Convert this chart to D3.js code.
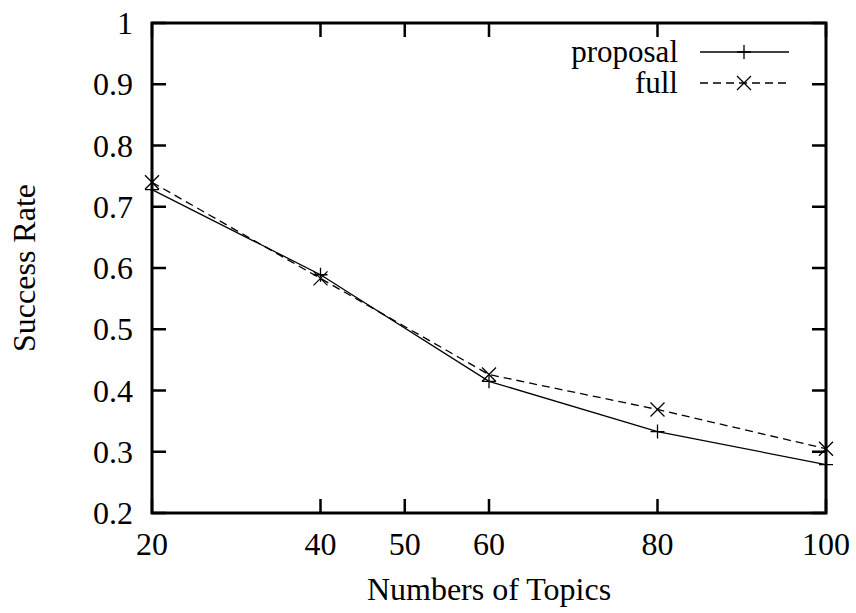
<!DOCTYPE html>
<html>
<head>
<meta charset="utf-8">
<script src="https://cdn.jsdelivr.net/npm/d3@7"></script>
<style>
	body { margin: 0; background: #fff; }
</style>
</head>
<body>
<svg id="chart" width="856" height="613"></svg>
<script>

var topics = [20, 40, 60, 80, 100];
var proposal = [0.728, 0.589, 0.415, 0.333, 0.279];
var full = [0.740, 0.583, 0.426, 0.369, 0.305];
var xticks = [20, 40, 50, 60, 80, 100];
var yticks = [0.2, 0.3, 0.4, 0.5, 0.6, 0.7, 0.8, 0.9, 1];

var font = "'Liberation Serif', 'Times New Roman', Times, serif";
var fs = 32;

var svg = d3.select("#chart");
var [ mT, mR, mB, mL ] = [ 23, 30, 100, 152 ];		// marginTop, marginRight, ...
var width = 856, height = 613;

var x = d3.scaleLinear([20, 100], [mL, width - mR]);
var y = d3.scaleLinear([0.2, 1], [height - mB, mT]);

var tick = 14;

// ticks, drawn inward and mirrored like gnuplot
var g = svg.append("g").attr("stroke", "#000").attr("stroke-width", 2.5);
xticks.forEach(t => {
	g.append("line").attr("x1", x(t)).attr("x2", x(t)).attr("y1", y(0.2)).attr("y2", y(0.2) - tick);
	g.append("line").attr("x1", x(t)).attr("x2", x(t)).attr("y1", y(1)).attr("y2", y(1) + tick);
});
yticks.forEach(t => {
	g.append("line").attr("x1", x(20)).attr("x2", x(20) + tick).attr("y1", y(t)).attr("y2", y(t));
	g.append("line").attr("x1", x(100)).attr("x2", x(100) - tick).attr("y1", y(t)).attr("y2", y(t));
});

svg.append("rect")
	.attr("x", x(20)).attr("y", y(1))
	.attr("width", x(100) - x(20)).attr("height", y(0.2) - y(1))
	.attr("fill", "none").attr("stroke", "#000").attr("stroke-width", 3);

var txt = svg.append("g").attr("font-family", font).attr("font-size", fs).attr("fill", "#000");

// tick labels
txt.append("g").selectAll("text").data(xticks).join("text")
	.attr("x", d => x(d)).attr("y", y(0.2) + 42)
	.attr("text-anchor", "middle")
	.text(d => d);

txt.append("g").selectAll("text").data(yticks).join("text")
	.attr("x", x(20) - 19).attr("y", d => y(d) + 11)
	.attr("text-anchor", "end")
	.text(d => d3.format("~g")(d));

txt.append("text")
	.attr("x", (x(20) + x(100)) / 2).attr("y", 600)
	.attr("text-anchor", "middle")
	.text("Numbers of Topics");

txt.append("text")
	.attr("transform", `translate(35, ${(y(0.2) + y(1)) / 2}) rotate(-90)`)
	.attr("text-anchor", "middle")
	.text("Success Rate");

// series
var line = d3.line().x(d => x(d[0])).y(d => y(d[1]));

function plus(sel, cx, cy)	{
	var s = 7;
	sel.append("path").attr("d", `M${cx - s},${cy}H${cx + s}M${cx},${cy - s}V${cy + s}`)
		.attr("stroke", "#000").attr("stroke-width", 1.3).attr("fill", "none");
}

function cross(sel, cx, cy)	{
	var s = 7;
	sel.append("path").attr("d", `M${cx - s},${cy - s}L${cx + s},${cy + s}M${cx - s},${cy + s}L${cx + s},${cy - s}`)
		.attr("stroke", "#000").attr("stroke-width", 1.3).attr("fill", "none");
}

var series = [
	{ name: "proposal", vals: proposal, dash: null, mark: plus },
	{ name: "full", vals: full, dash: "8,5", mark: cross },
];

series.forEach((s, i) => {
	var pts = topics.map((t, j) => [t, s.vals[j]]);
	var sg = svg.append("g");
	sg.append("path").attr("d", line(pts))
		.attr("fill", "none").attr("stroke", "#000").attr("stroke-width", 1.3)
		.attr("stroke-dasharray", s.dash);
	pts.forEach(p => s.mark(sg, x(p[0]), y(p[1])));

	// legend
	var ly = 52 + i * 31;
	txt.append("text").attr("x", 678).attr("y", ly + 10)
		.attr("font-size", 31)
		.attr("text-anchor", "end").text(s.name);
	svg.append("line").attr("x1", 700).attr("x2", 789).attr("y1", ly).attr("y2", ly)
		.attr("stroke", "#000").attr("stroke-width", 1.3).attr("stroke-dasharray", s.dash);
	s.mark(svg, 744, ly);
});

</script>
</body>
</html>
